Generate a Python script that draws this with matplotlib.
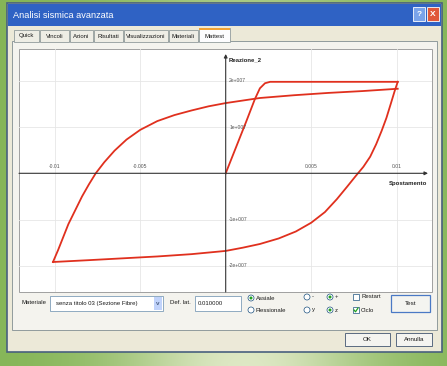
import numpy as np
import matplotlib
matplotlib.use("Agg")
import matplotlib.pyplot as plt
from matplotlib.patches import Rectangle, Circle

plt.rcParams['font.family'] = ['Liberation Sans', 'DejaVu Sans']

# --- data (displacement, reaction) ---
x_initial = [0.0, 0.0006, 0.0012, 0.0017, 0.0020, 0.0023, 0.0026, 0.01006]
y_initial = [0.0, 5.6e6, 1.12e7, 1.6e7, 1.84e7, 1.95e7, 1.98e7, 1.98e7]

x_down = [0.01006, 0.00988, 0.00965, 0.0094, 0.00912, 0.0088, 0.00845, 0.00805,
          0.0076, 0.0071, 0.0065, 0.0058, 0.005, 0.0041, 0.0031, 0.002, 0.001,
          0.0, -0.002, -0.004, -0.006, -0.008, -0.0101]
y_down = [1.98e7, 1.78e7, 1.50e7, 1.20e7, 9.2e6, 6.3e6, 3.6e6, 1.4e6,
          -6e5, -2.9e6, -5.6e6, -8.4e6, -1.07e7, -1.26e7, -1.41e7, -1.53e7, -1.61e7,
          -1.68e7, -1.75e7, -1.80e7, -1.84e7, -1.88e7, -1.92e7]

x_up = [-0.0101, -0.0098, -0.0095, -0.0092, -0.0088, -0.0084, -0.008, -0.0076,
        -0.0071, -0.0065, -0.0058, -0.005, -0.004, -0.003, -0.002, -0.001,
        0.0, 0.002, 0.004, 0.006, 0.008, 0.01006]
y_up = [-1.92e7, -1.66e7, -1.38e7, -1.1e7, -8.0e6, -5.0e6, -2.4e6, 0.0,
        2.4e6, 4.9e6, 7.3e6, 9.4e6, 1.13e7, 1.26e7, 1.36e7, 1.45e7,
        1.52e7, 1.63e7, 1.69e7, 1.74e7, 1.78e7, 1.83e7]

x_ticks = [-0.01, -0.005, 0.005, 0.01]
x_tick_labels = ["-0.01", "-0.005", "0.005", "0.01"]
y_ticks = [2e7, 1e7, -1e7, -2e7]
y_tick_labels = ["2e+007", "1e+007", "-1e+007", "-2e+007"]

tabs = ["Quick", "Vincoli", "Azioni", "Risultati", "Visualizzazioni", "Materiali", "Mattest"]
tab_edges = [14, 40, 70, 94, 124, 169, 199, 231]

W, H = 447, 366
fig = plt.figure(figsize=(W / 100, H / 100), dpi=100)

# background axes in pixel coordinates
bg = fig.add_axes([0, 0, 1, 1])
bg.set_xlim(0, W)
bg.set_ylim(H, 0)
bg.axis('off')

# green desktop gradient
gx = np.linspace(0, 1, 200)
gy = np.linspace(0, 1, 160)
GX, GY = np.meshgrid(gx, gy)
light = np.exp(-((GX - 0.55) ** 2) / 0.08) * (0.4 + 0.6 * GY)
c_dark = np.array([0.52, 0.71, 0.34])
c_light = np.array([0.87, 0.91, 0.77])
img = c_dark + (c_light - c_dark) * light[..., None]
bg.imshow(img, extent=[0, W, H, 0], aspect='auto', zorder=0)


def rect(x0, y0, x1, y1, **kw):
    bg.add_patch(Rectangle((x0, y0), x1 - x0, y1 - y0, **kw))


def label(x, y, s, size=4.6, **kw):
    kw.setdefault('color', '#1a1a1a')
    kw.setdefault('va', 'center')
    bg.text(x, y, s, fontsize=size, **kw)


# window
rect(7, 3, 442, 352, facecolor='#ece9d8', edgecolor='#48607e', lw=1.2, zorder=1)
rect(8, 4, 441, 26, facecolor='#2f62c4', edgecolor='none', zorder=2)
label(13, 15, "Analisi sismica avanzata", size=6.6, color='white', zorder=3)
rect(413, 7, 425, 21, facecolor='#7aa3ea', edgecolor='white', lw=0.6, zorder=3)
label(419, 14, "?", size=6, color='white', ha='center', weight='bold', zorder=4)
rect(427, 7, 439, 21, facecolor='#e0583a', edgecolor='white', lw=0.6, zorder=3)
label(433, 14, "X", size=6, color='white', ha='center', weight='bold', zorder=4)

# tab page
rect(12, 41, 437, 330, facecolor='#f4f3ee', edgecolor='#919b9c', lw=0.7, zorder=2)
for i, name in enumerate(tabs):
    x0, x1 = tab_edges[i], tab_edges[i + 1] - 1
    sel = name == "Mattest"
    y0 = 28 if sel else 30
    rect(x0, y0, x1, 41.5, facecolor='#fcfcfe' if sel else '#eeede5',
         edgecolor='#919b9c', lw=0.6, zorder=3)
    if sel:
        rect(x0, y0, x1, y0 + 1.5, facecolor='#f2a334', edgecolor='none', zorder=4)
    label((x0 + x1) / 2, 36, name, size=4.3, ha='center', zorder=4)

# plot panel
rect(19, 49, 432, 292, facecolor='white', edgecolor='#a0a0a0', lw=0.7, zorder=3)

# bottom controls
label(22, 303, "Materiale", size=4.3, zorder=4)
rect(50, 296, 163, 311, facecolor='white', edgecolor='#7f9db9', lw=0.6, zorder=4)
label(56, 303.5, "senza titolo 03 (Sezione Fibre)", size=4.3, zorder=5)
rect(154, 297, 162, 310, facecolor='#c1d3fb', edgecolor='none', zorder=5)
label(158, 303.5, "v", size=4.5, ha='center', color='#4d6185', weight='bold', zorder=6)
label(170, 303, "Def. lat.", size=4.3, zorder=4)
rect(195, 296, 241, 311, facecolor='white', edgecolor='#7f9db9', lw=0.6, zorder=4)
label(198, 303.5, "0.010000", size=4.3, zorder=5)


def radio(x, y, on):
    bg.add_patch(Circle((x, y), 3.0, facecolor='white', edgecolor='#1c5180', lw=0.5, zorder=5))
    if on:
        bg.add_patch(Circle((x, y), 1.5, facecolor='#21a121', edgecolor='none', zorder=6))


def check(x, y, on):
    rect(x - 3, y - 3, x + 3, y + 3, facecolor='white', edgecolor='#1c5180', lw=0.5, zorder=5)
    if on:
        bg.plot([x - 2, x - 0.5, x + 2], [y, y + 1.8, y - 2], color='#21a121', lw=0.9, zorder=6)


radio(251, 298, True)
label(256, 298, "Assiale", size=4.3, zorder=5)
radio(251, 310, False)
label(256, 310, "Flessionale", size=4.3, zorder=5)
radio(307, 297, False)
label(312, 297, "-", size=4.3, zorder=5)
radio(330, 297, True)
label(335, 297, "+", size=4.3, zorder=5)
radio(307, 310, False)
label(312, 310, "y", size=4.3, zorder=5)
radio(330, 310, True)
label(335, 310, "z", size=4.3, zorder=5)
check(356, 297, False)
label(361, 297, "Restart", size=4.3, zorder=5)
check(356, 310, True)
label(361, 310, "Ciclo", size=4.3, zorder=5)

rect(391, 295, 430, 312, facecolor='#f4f4f0', edgecolor='#4a79c5', lw=0.9, zorder=5)
label(410.5, 303.5, "Test", size=4.5, ha='center', zorder=6)
rect(345, 333, 390, 346, facecolor='#f4f4f0', edgecolor='#5a6a80', lw=0.7, zorder=5)
label(367.5, 339.5, "OK", size=4.5, ha='center', zorder=6)
rect(396, 333, 432, 346, facecolor='#f4f4f0', edgecolor='#5a6a80', lw=0.7, zorder=5)
label(414, 339.5, "Annulla", size=4.5, ha='center', zorder=6)

# --- chart axes inside the white panel ---
px_l, px_r, px_t, px_b = 19, 432, 49, 292
ox, oy = 225.7, 173.3
sx = 0.01 / 171.0      # data per pixel, x
sy = 1e7 / 46.2        # data per pixel, y
ax = fig.add_axes([px_l / W, 1 - px_b / H, (px_r - px_l) / W, (px_b - px_t) / H])
ax.set_xlim((px_l - ox) * sx, (px_r - ox) * sx)
ax.set_ylim((oy - px_b) * sy, (oy - px_t) * sy)
ax.patch.set_alpha(0)
ax.set_zorder(5)
for s in ax.spines.values():
    s.set_visible(False)
ax.set_xticks(x_ticks)
ax.set_yticks(y_ticks)
ax.tick_params(length=0, labelbottom=False, labelleft=False)
ax.grid(color='#e6e6e6', lw=0.6)

xmin, xmax = ax.get_xlim()
ymin, ymax = ax.get_ylim()
ax.annotate('', xy=((428 - ox) * sx, 0), xytext=(xmin, 0),
            arrowprops=dict(arrowstyle='-|>', lw=0.8, color='#333333',
                            mutation_scale=5, shrinkA=0, shrinkB=0))
ax.annotate('', xy=(0, (oy - 54) * sy), xytext=(0, ymin),
            arrowprops=dict(arrowstyle='-|>', lw=0.8, color='#333333',
                            mutation_scale=5, shrinkA=0, shrinkB=0))

for xv, s in zip(x_ticks, x_tick_labels):
    ax.text(xv, 4.5 * sy, s, fontsize=3.6, color='#555555', ha='center', va='bottom')
for yv, s in zip(y_ticks, y_tick_labels):
    ax.text(3.5 * sx, yv, s, fontsize=3.6, color='#555555', ha='left', va='center')
ax.text(2.5 * sx, (oy - 60) * sy, "Reazione_2", fontsize=4.3, weight='bold',
        color='#222222', ha='left', va='center')
ax.text((427 - ox) * sx, (oy - 184) * sy, "Spostamento", fontsize=4.3, weight='bold',
        color='#222222', ha='right', va='center')

red = '#e0301e'
ax.plot(x_initial, y_initial, color=red, lw=1.3, solid_joinstyle='round')
ax.plot(x_down, y_down, color=red, lw=1.3, solid_joinstyle='round')
ax.plot(x_up, y_up, color=red, lw=1.3, solid_joinstyle='round')

fig.savefig("out.png", dpi=100)
